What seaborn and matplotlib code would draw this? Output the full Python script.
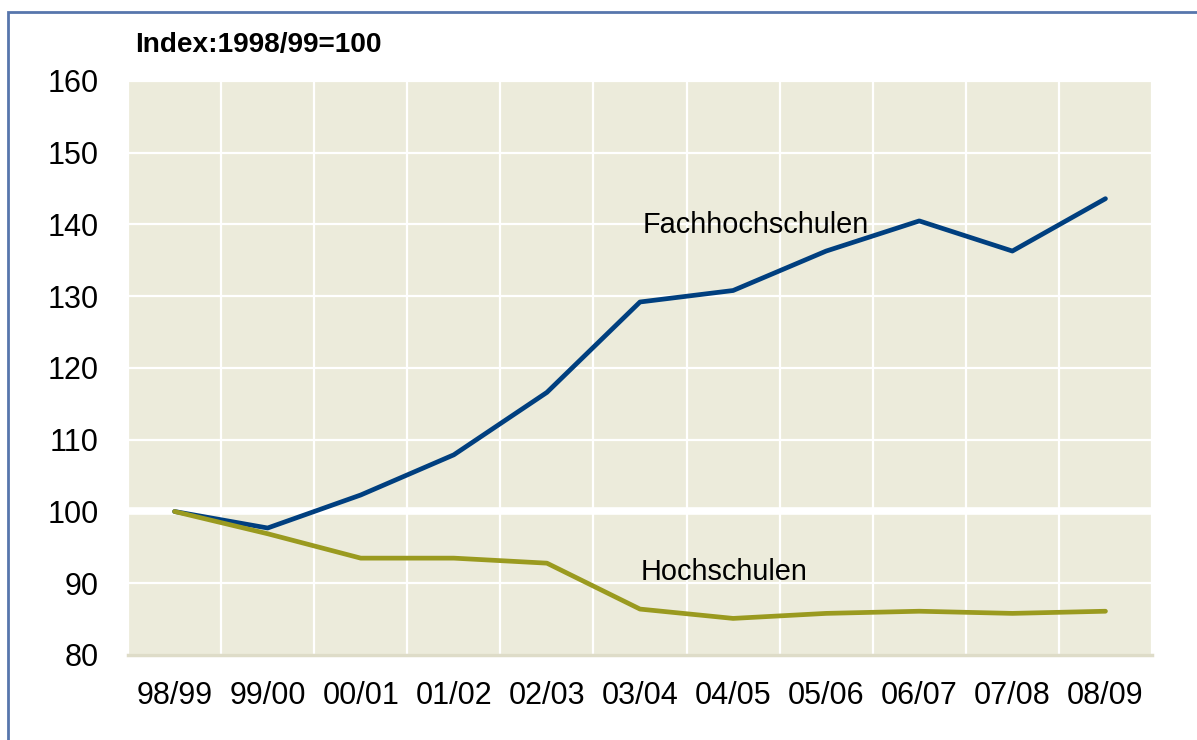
import matplotlib
matplotlib.use("Agg")
import matplotlib.pyplot as plt
import seaborn as sns
import pandas as pd
from matplotlib.patches import Rectangle

periods = ["98/99", "99/00", "00/01", "01/02", "02/03", "03/04",
           "04/05", "05/06", "06/07", "07/08", "08/09"]
fachhochschulen = [100.0, 97.7, 102.3, 107.9, 116.6, 129.2,
                   130.8, 136.3, 140.5, 136.3, 143.6]
hochschulen = [100.0, 96.9, 93.5, 93.5, 92.8, 86.4,
               85.1, 85.8, 86.1, 85.8, 86.1]
y_ticks = [80, 90, 100, 110, 120, 130, 140, 150, 160]

sns.set_theme(style="white")
plt.rcParams['font.family'] = ['Liberation Sans', 'DejaVu Sans']
plt.rcParams['text.color'] = 'black'
plt.rcParams['xtick.color'] = 'black'
plt.rcParams['ytick.color'] = 'black'

df = pd.DataFrame({
    "period": periods * 2,
    "value": fachhochschulen + hochschulen,
    "series": ["Fachhochschulen"] * len(periods) + ["Hochschulen"] * len(periods),
})

fig = plt.figure(figsize=(11.97, 7.40), dpi=100)
ax = fig.add_axes([128 / 1197, 1 - 655 / 740, (1152 - 128) / 1197, (655 - 81) / 740])
ax.set_facecolor("#ECEBDB")

sns.lineplot(data=df, x="period", y="value", hue="series", sort=False,
             palette={"Fachhochschulen": "#003F7F", "Hochschulen": "#9A9A1F"},
             linewidth=3.4, legend=False, ax=ax, zorder=5)

ax.set_xlim(-0.5, len(periods) - 0.5)
ax.set_ylim(80, 160)
ax.set_yticks(y_ticks)
ax.set_yticklabels([str(t) for t in y_ticks], fontsize=22)
ax.set_xticks(range(len(periods)))
ax.set_xticklabels(periods, fontsize=22)
ax.tick_params(axis="both", which="both", length=0, labelcolor="black")
ax.tick_params(axis="x", pad=19)
ax.tick_params(axis="y", pad=21)
ax.set_xlabel("")
ax.set_ylabel("")

ax.grid(False)
for t in y_ticks:
    ax.axhline(t, color="white", lw=1.6, zorder=1)
for i in range(len(periods) + 1):
    ax.axvline(i - 0.5, color="white", lw=1.6, zorder=1)
ax.axhline(100, color="white", lw=5.5, zorder=2)

for s in ["top", "right", "left"]:
    ax.spines[s].set_visible(False)
ax.spines["bottom"].set_color("#DEDCC8")
ax.spines["bottom"].set_linewidth(2.5)

ax.text(5.03, 139.9, "Fachhochschulen", fontsize=20.8, color="black",
        ha="left", va="center", zorder=6)
ax.text(5.01, 91.6, "Hochschulen", fontsize=20.8, color="black",
        ha="left", va="center", zorder=6)

fig.text(135 / 1197, 1 - 45 / 740, "Index:1998/99=100", fontsize=20.2,
         fontweight="bold", color="black", ha="left", va="center")

fig.patches.append(Rectangle((8 / 1197, -0.1), 1.2, 1.1 - 12 / 740,
                             transform=fig.transFigure, fill=False,
                             edgecolor="#5776AC", lw=2.0))

fig.savefig("out.png", dpi=100)
